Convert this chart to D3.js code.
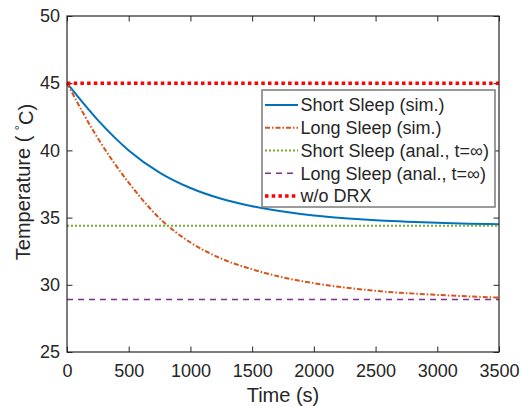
<!DOCTYPE html>
<html lang="en">
  <head>
    <meta charset="UTF-8" />
    <title>Temperature vs Time</title>
    <script src="https://cdn.jsdelivr.net/npm/d3@7"></script>
    <style>
      body { margin: 0; background: #fff; }
      text { font-family: 'Liberation Sans', Arial, Helvetica, sans-serif; fill: #262626; }
    </style>
  </head>
  <body>
    <div id="chart_svg"></div>
    <script>
      // values
      const time = [0, 250, 500, 750, 1000, 1250, 1500, 1750, 2000, 2250, 2500, 2750, 3000, 3250, 3500]
      const shortSim = [45.0, 42.25, 40.0, 38.35, 37.2, 36.4, 35.85, 35.45, 35.15, 34.95, 34.8, 34.7, 34.61, 34.55, 34.5]
      const longSim = [45.0, 40.9, 37.6, 34.95, 33.15, 31.95, 31.15, 30.55, 30.12, 29.8, 29.55, 29.38, 29.25, 29.14, 29.05]
      const shortAnal = 34.4
      const longAnal = 28.9
      const noDrx = 45
      const xTicks = [0, 500, 1000, 1500, 2000, 2500, 3000, 3500]
      const yTicks = [25, 30, 35, 40, 45, 50]

      const W = 522, H = 406
      const ml = 67, mt = 16, w = 432, h = 336
      const ink = '#262626'

      const svg = d3.select('#chart_svg').append('svg').attr('width', W).attr('height', H)
      const view = svg.append('g').attr('transform', `translate(${ml},${mt})`)

      const x = d3.scaleLinear().domain([0, 3500]).range([0, w])
      const y = d3.scaleLinear().domain([25, 50]).range([h, 0])

      // axes with inward ticks
      const axisStyle = g => {
        g.select('.domain').remove()
        g.selectAll('line').attr('stroke', ink).attr('stroke-width', 1)
        g.selectAll('text').style('font-size', '18px').attr('fill', ink)
      }
      view.append('g').attr('transform', `translate(0,${h})`)
        .call(d3.axisBottom(x).tickValues(xTicks).tickSize(-5.5).tickPadding(12.6).tickFormat(d3.format('d')))
        .call(axisStyle)
      view.append('g')
        .call(d3.axisLeft(y).tickValues(yTicks).tickSize(-5.5).tickPadding(7).tickFormat(d3.format('d')))
        .call(axisStyle)
      view.append('g')
        .call(d3.axisTop(x).tickValues(xTicks).tickSize(-5.5).tickFormat(''))
        .call(axisStyle)
      view.append('g').attr('transform', `translate(${w},0)`)
        .call(d3.axisRight(y).tickValues(yTicks).tickSize(-5.5).tickFormat(''))
        .call(axisStyle)

      const line = d3.line().x(d => x(d[0])).y(d => y(d[1])).curve(d3.curveMonotoneX)
      const flat = v => [[0, v], [3500, v]]

      const series = [
        { name: 'Short Sleep (sim.)', data: d3.zip(time, shortSim), color: '#0072BD', width: 2, dash: null },
        { name: 'Long Sleep (sim.)', data: d3.zip(time, longSim), color: '#D95319', width: 2, dash: '5,2,1.5,2' },
        { name: 'Short Sleep (anal., t=\u221E)', data: flat(shortAnal), color: '#77AC30', width: 2, dash: '2,2' },
        { name: 'Long Sleep (anal., t=\u221E)', data: flat(longAnal), color: '#7E2F8E', width: 1.5, dash: '6,5' },
        { name: 'w/o DRX', data: flat(noDrx), color: '#FF0000', width: 3.5, dash: '3.5,3.2' }
      ]

      view.selectAll('.series').data(series).enter().append('path')
        .attr('class', 'series')
        .attr('d', d => line(d.data))
        .attr('fill', 'none')
        .attr('stroke', d => d.color)
        .attr('stroke-width', d => d.width)
        .attr('stroke-dasharray', d => d.dash)

      // axes box
      view.append('rect').attr('width', w).attr('height', h)
        .attr('fill', 'none').attr('stroke', ink).attr('stroke-width', 1.2)

      // axis labels
      svg.append('text').attr('x', ml + w / 2).attr('y', 402)
        .attr('text-anchor', 'middle').style('font-size', '20px').text('Time (s)')
      const yl = svg.append('text')
        .attr('transform', 'translate(30,182) rotate(-90)')
        .attr('text-anchor', 'middle').style('font-size', '20px')
      yl.append('tspan').text('Temperature ( ')
      yl.append('tspan').attr('dy', '-0.45em').style('font-size', '13px').text('\u00B0')
      yl.append('tspan').attr('dy', '0.45em').text('C)')

      // legend
      const lx = 262, ly = 90, lw = 233, lh = 117, rowH = 22.75
      const legend = svg.append('g')
      legend.append('rect').attr('x', lx).attr('y', ly).attr('width', lw).attr('height', lh)
        .attr('fill', '#fff').attr('stroke', '#7a7a7a').attr('stroke-width', 1.5)
      const rows = legend.selectAll('.row').data(series).enter().append('g')
        .attr('class', 'row')
        .attr('transform', (d, i) => `translate(0,${ly + 15 + i * rowH})`)
      rows.append('line').attr('x1', lx + 3).attr('x2', lx + 36)
        .attr('stroke', d => d.color).attr('stroke-width', d => d.width)
        .attr('stroke-dasharray', d => d.dash)
      rows.append('text').attr('x', lx + 38.5).attr('dy', '0.35em')
        .style('font-size', '18px').text(d => d.name)
    </script>
  </body>
</html>
